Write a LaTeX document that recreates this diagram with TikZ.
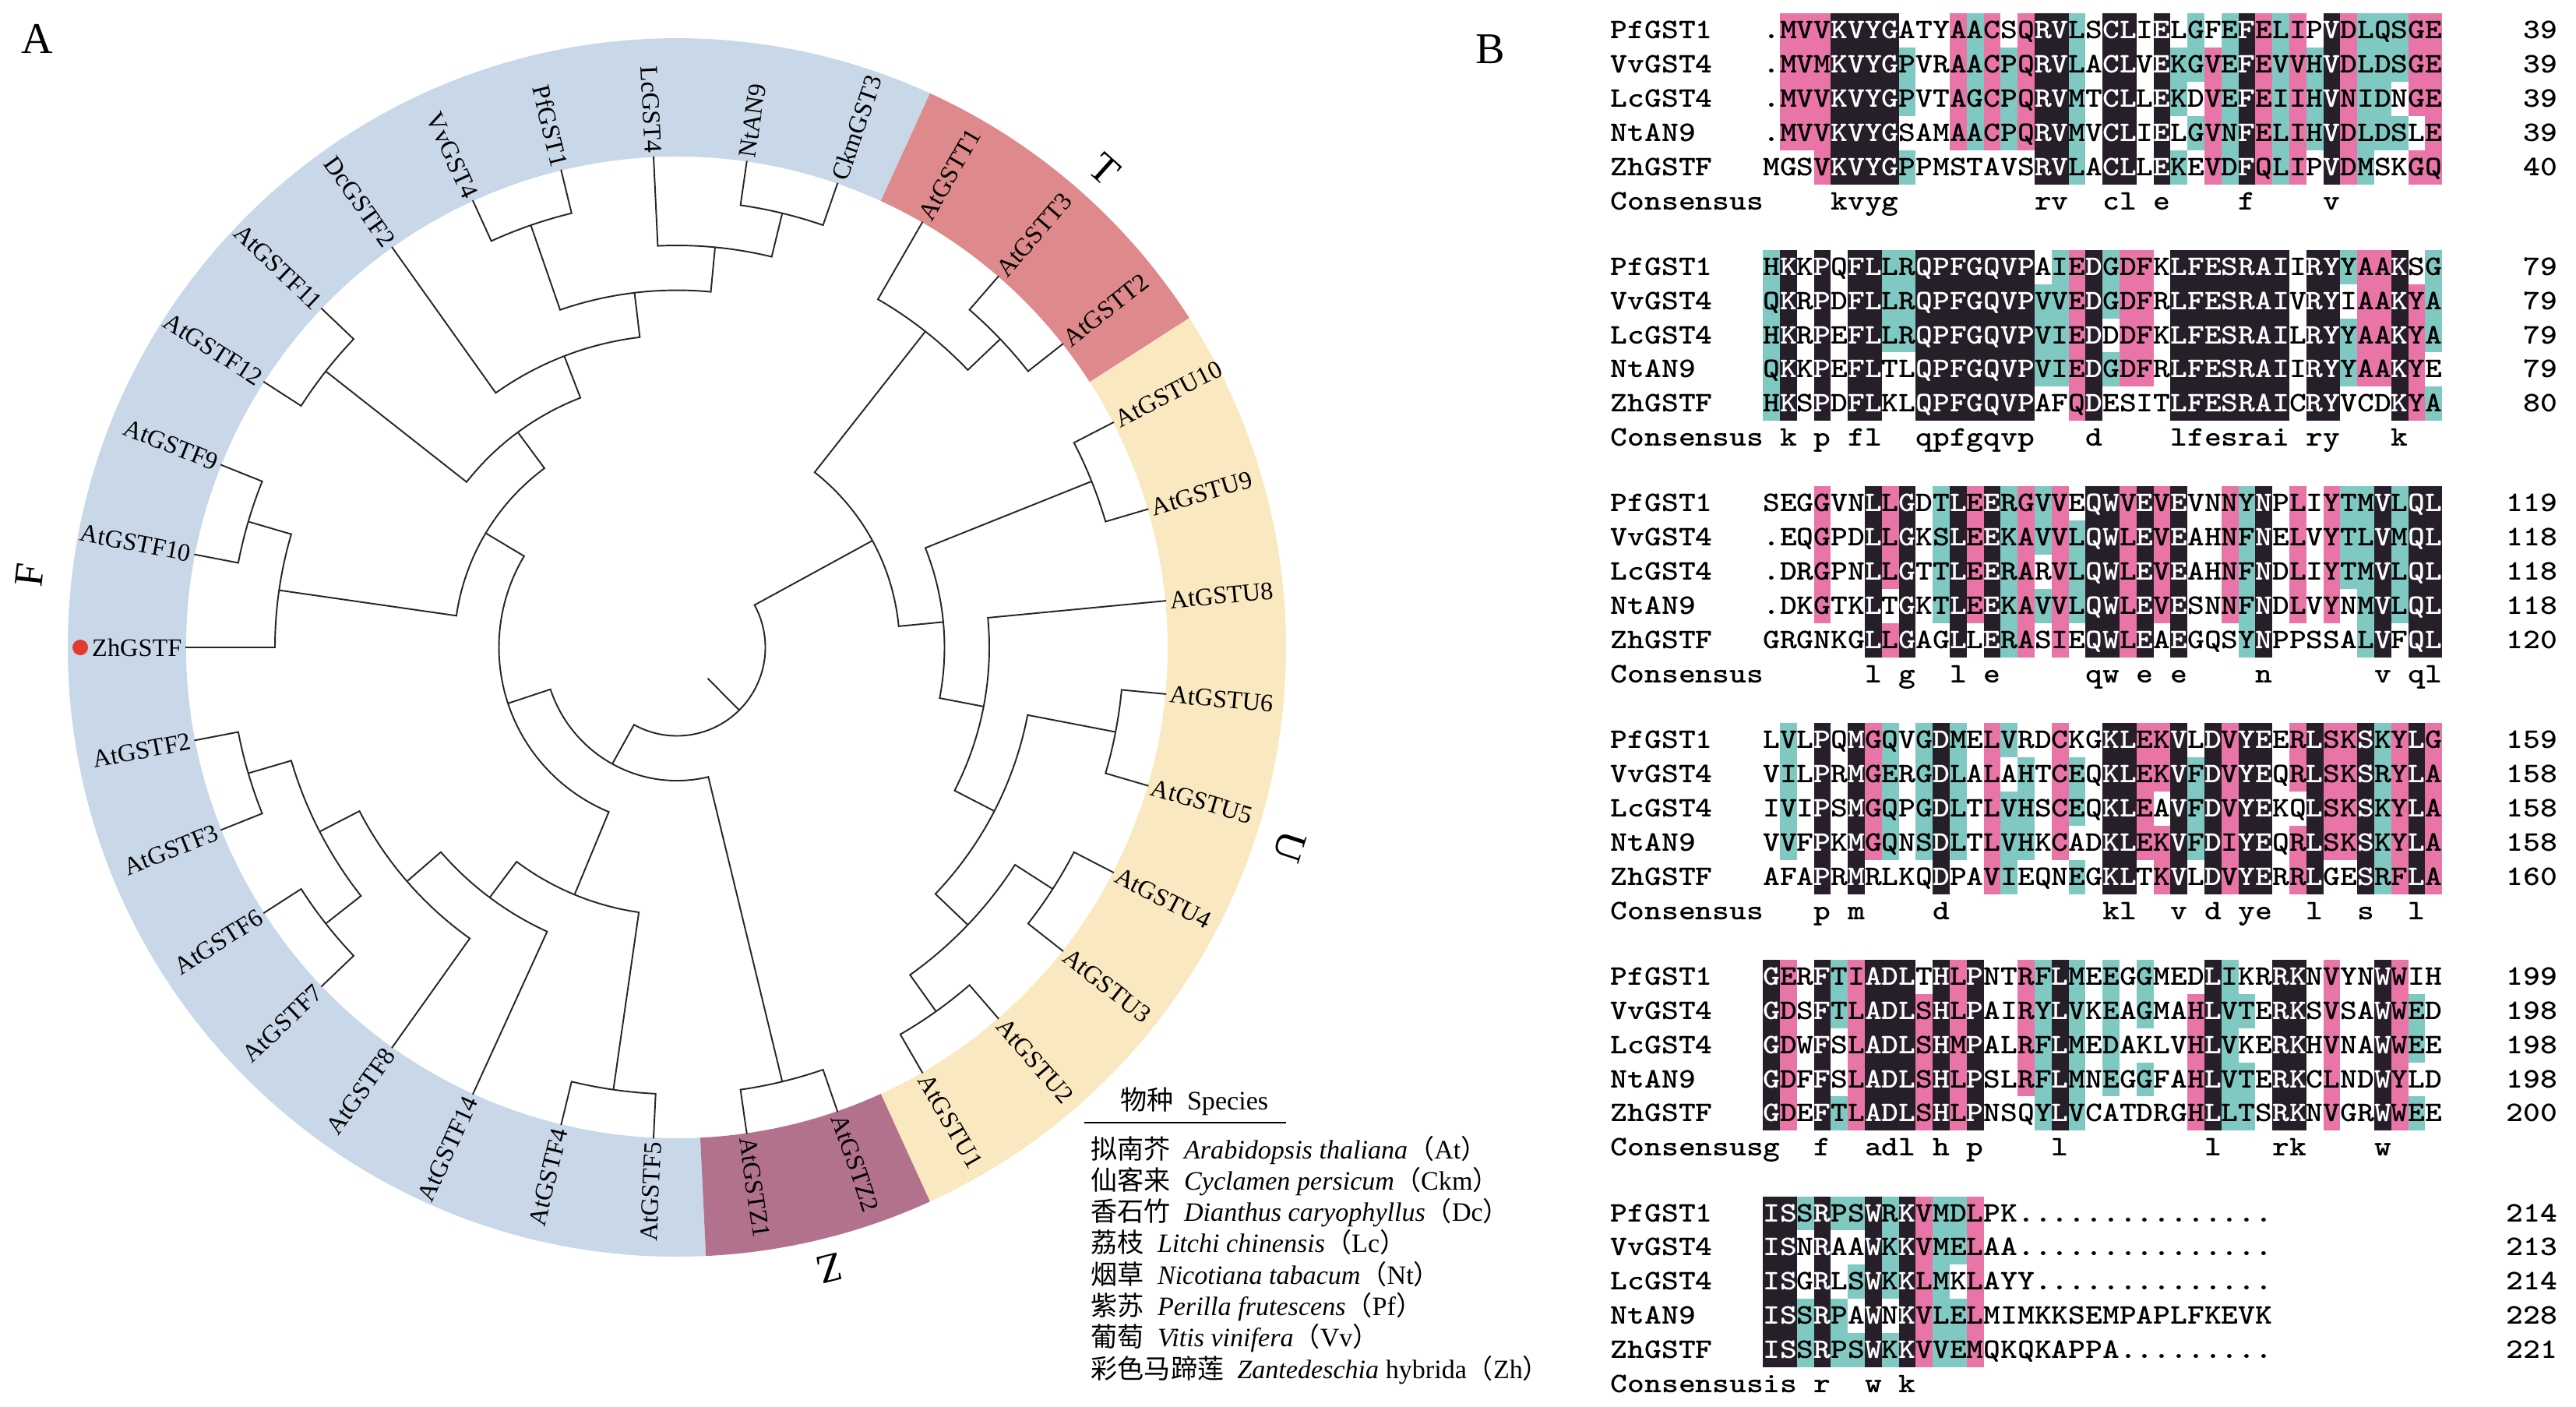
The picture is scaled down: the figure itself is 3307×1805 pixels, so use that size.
\documentclass[tikz,border=0pt]{standalone}
\usepackage{fontspec}
\setmainfont{Liberation Serif}
\newfontfamily\seqmono{lmmonolt10-bold}[Extension=.otf, FakeStretch=1.143]
\newfontfamily\cjk{Noto Sans CJK SC}

\definecolor{ringF}{HTML}{C8D8E8}
\definecolor{ringT}{HTML}{DE8A8C}
\definecolor{ringU}{HTML}{FAE8C0}
\definecolor{ringZ}{HTML}{B2728E}
\definecolor{zhred}{HTML}{E53A2F}
\definecolor{idblack}{HTML}{261E28}
\definecolor{hipink}{HTML}{E974A7}
\definecolor{midteal}{HTML}{80C9C3}

\ExplSyntaxOn
\cs_new:Npn \pickchar #1#2 { \str_item:Nn #1 {#2} }
\cs_new:Npn \countchars #1 { \str_count:N #1 }
\ExplSyntaxOff

\newcommand\colw{21.8}
\newcommand\rowh{43.9}
\newcommand\xname{2067}
\newcommand\xnum{3284}
\newcommand\baseoff{10.5}

% annular sector of the clade ring
\newcommand\ringpart[3]{\fill[#1] (#2:630) arc[start angle=#2, end angle=#3, radius=630]
  -- (#3:782) arc[start angle=#3, end angle=#2, radius=782] -- cycle;}

% name, angle/radius of child 1, angle/radius of child 2, radius of the joint
\newcommand\clade[6]{%
  \draw[branch] (#2:#3) -- (#2:#6) arc[start angle=#2, end angle=#4, radius=#6] -- (#4:#5);
  \coordinate (#1) at ({(#2+#4)/2}:#6);}

% block, row, name, residues, shading (K black, P pink, C teal, - none), last position
\newcommand\seqrow[6]{%
  \pgfmathsetmacro\yc{39+303.7*#1+43.9*#2}%
  \def\seqres{#4}\def\seqcode{#5}%
  \edef\nres{\countchars\seqres}\edef\ncode{\countchars\seqcode}%
  \foreach \i in {1,...,\ncode}{%
    \edef\shd{\pickchar\seqcode{\i}}%
    \pgfmathsetmacro\xl{\xname+(8+\i)*\colw}%
    \if K\shd\relax\fill[idblack] (\xl,{-\yc-\rowh/2}) rectangle ++(\colw,\rowh);\fi
    \if P\shd\relax\fill[hipink] (\xl,{-\yc-\rowh/2}) rectangle ++(\colw,\rowh);\fi
    \if C\shd\relax\fill[midteal] (\xl,{-\yc-\rowh/2}) rectangle ++(\colw,\rowh);\fi
  }%
  \foreach \i in {1,...,\nres}{%
    \edef\resch{\pickchar\seqres{\i}}\edef\shd{\pickchar\seqcode{\i}}%
    \pgfmathsetmacro\xc{\xname+(8.5+\i)*\colw}%
    \if K\shd\relax\def\txtcol{white}\else\def\txtcol{black}\fi
    \node[seqtxt, text=\txtcol] at (\xc,{-\yc-\baseoff}) {\resch};
  }%
  \node[seqtxt, anchor=base west] (#3-#1) at (\xname,{-\yc-\baseoff}) {#3};
  \node[seqtxt, anchor=base east] (end-#3-#1) at (\xnum,{-\yc-\baseoff}) {#6};
}

% block, consensus letters ('-' = blank)
\newcommand\consrow[2]{%
  \pgfmathsetmacro\yc{39+303.7*#1+43.9*5}%
  \def\seqres{#2}\edef\nres{\countchars\seqres}%
  \foreach \i in {1,...,\nres}{%
    \edef\resch{\pickchar\seqres{\i}}%
    \pgfmathsetmacro\xc{\xname+(8.5+\i)*\colw}%
    \if -\resch\relax\else\node[seqtxt] at (\xc,{-\yc-\baseoff}) {\resch};\fi
  }%
  \node[seqtxt, anchor=base west] (cons-#1) at (\xname,{-\yc-\baseoff}) {Consensus};
}

\begin{document}
\begin{tikzpicture}[x=0.01cm, y=0.01cm,
    branch/.style = {line width=0.55pt, draw=black!85},
    leaf/.style = {font=\fontsize{9.2}{10}\selectfont, inner sep=0pt},
    cladelab/.style = {font=\fontsize{15}{16}\selectfont, inner sep=0pt},
    panel/.style = {font=\fontsize{16}{18}\selectfont, inner sep=0pt},
    seqtxt/.style = {font=\seqmono\fontsize{10.34}{12}\selectfont, inner sep=0pt, anchor=base},
    legtxt/.style = {font=\fontsize{9.7}{12}\selectfont, inner sep=0pt, anchor=base west}
  ]
\useasboundingbox (0,0) rectangle (3307,-1805);
\node[panel] (panA) at (48,-50) {A};
\node[panel] (panB) at (1913,-63) {B};

\begin{scope}[shift={(869,-831)}]
  \ringpart{ringF}{65.45}{272.73}
  \ringpart{ringT}{32.73}{65.45}
  \ringpart{ringU}{-65.45}{32.73}
  \ringpart{ringZ}{-87.27}{-65.45}

  % F, upper part
  \clade{f910}{158.18}{631}{169.09}{631}{573.5}
  \clade{f910zh}{163.64}{573.5}{180}{631}{516}
  \clade{f1112}{136.36}{631}{147.27}{631}{573.5}
  \clade{vvpf}{103.64}{631}{114.55}{631}{573.5}
  \clade{ntckm}{70.91}{631}{81.82}{631}{573.5}
  \clade{lcnt}{76.36}{573.5}{92.73}{631}{516}
  \clade{fcore}{84.55}{516}{109.09}{573.5}{458.5}
  \clade{fdc}{96.82}{458.5}{125.45}{631}{401}
  \clade{fmid}{111.14}{401}{141.82}{573.5}{343.5}
  \clade{fup}{126.48}{343.5}{171.82}{516}{286}
  % F, lower part
  \clade{f23}{-169.09}{631}{-158.18}{631}{573.5}
  \clade{f67}{-147.27}{631}{-136.36}{631}{573.5}
  \clade{f2367}{-163.64}{573.5}{-141.82}{573.5}{516}
  \clade{f8}{-152.73}{516}{-125.45}{631}{458.5}
  \clade{f14}{-139.09}{458.5}{-114.55}{631}{401}
  \clade{f45}{-103.64}{631}{-92.73}{631}{573.5}
  \clade{flow}{-126.82}{401}{-98.18}{573.5}{343.5}
  \clade{froot}{149.15}{286}{247.5}{343.5}{228.5}
  % Z, T, U
  \clade{zz}{-81.82}{631}{-70.91}{631}{573.5}
  \clade{t32}{38.18}{631}{49.09}{631}{573.5}
  \clade{tt}{43.64}{573.5}{60}{631}{516}
  \clade{u109}{16.36}{631}{27.27}{631}{573.5}
  \clade{u65}{-16.36}{631}{-5.45}{631}{573.5}
  \clade{u43}{-38.18}{631}{-27.27}{631}{573.5}
  \clade{u21}{-60}{631}{-49.09}{631}{573.5}
  \clade{u4321}{-54.55}{573.5}{-32.73}{573.5}{516}
  \clade{uv}{-43.64}{516}{-10.91}{573.5}{458.5}
  \clade{u8v}{-27.27}{458.5}{5.45}{631}{401}
  \clade{uall}{-10.91}{401}{21.82}{573.5}{343.5}
  \clade{tu}{5.45}{343.5}{51.82}{516}{286}
  % root
  \clade{fz}{198.33}{228.5}{283.64}{573.5}{171}
  \clade{top}{-119.02}{171}{28.64}{286}{113.5}
  \draw[branch] (top) -- (-45.19:56);

  \foreach \a/\lab in {81.82/NtAN9, 70.91/CkmGST3, 60/AtGSTT1, 49.09/AtGSTT3, 38.18/AtGSTT2,
      27.27/AtGSTU10, 16.36/AtGSTU9, 5.45/AtGSTU8, -5.45/AtGSTU6, -16.36/AtGSTU5,
      -27.27/AtGSTU4, -38.18/AtGSTU3, -49.09/AtGSTU2, -60/AtGSTU1, -70.91/AtGSTZ2, -81.82/AtGSTZ1}
    \node[leaf, anchor=west, rotate=\a] (\lab) at (\a:635) {\lab};
  \foreach \a/\lab in {92.73/LcGST4, 103.64/PfGST1, 114.55/VvGST4, 125.45/DcGSTF2, 136.36/AtGSTF11,
      147.27/AtGSTF12, 158.18/AtGSTF9, 169.09/AtGSTF10, 180/ZhGSTF, 190.91/AtGSTF2,
      201.82/AtGSTF3, 212.73/AtGSTF6, 223.64/AtGSTF7, 234.55/AtGSTF8, 245.45/AtGSTF14,
      256.36/AtGSTF4, 267.27/AtGSTF5}
    \node[leaf, anchor=east, rotate=\a+180] (\lab) at (\a:635) {\lab};
  \fill[zhred] (180:766) circle[radius=10];

  \node[cladelab, rotate=-41.8] (cladeT) at (48.2:823) {T};
  \node[cladelab, rotate=-108] (cladeU) at (-18:827) {U};
  \node[cladelab, rotate=-166.2] (cladeZ) at (-76.2:821) {Z};
  \node[cladelab, rotate=83.6] (cladeF) at (173.6:836) {F};
\end{scope}

% species key
\node[legtxt] (leghead) at (1438,-1424) {{\cjk 物种}\hspace{0.5em}Species};
\draw[line width=0.6pt] (1392,-1441) -- (1651,-1441);
\foreach \k/\zh/\la/\ab in {0/拟南芥/\textit{Arabidopsis thaliana}/At, 1/仙客来/\textit{Cyclamen persicum}/Ckm,
    2/香石竹/\textit{Dianthus caryophyllus}/Dc, 3/荔枝/\textit{Litchi chinensis}/Lc,
    4/烟草/\textit{Nicotiana tabacum}/Nt, 5/紫苏/\textit{Perilla frutescens}/Pf,
    6/葡萄/\textit{Vitis vinifera}/Vv, 7/彩色马蹄莲/\textit{Zantedeschia} hybrida/Zh}
  \node[legtxt] (leg\k) at (1400,{-1487-40.3*\k}) {{\cjk\zh}\hspace{0.5em}\la{\cjk （}\ab{\cjk ）}};

% alignment
\seqrow{0}{0}{PfGST1}{.MVVKVYGATYAACSQRVLSCLIELGFEFELIPVDLQSGE}{-PPPKKKK---PCP-PKKC-KK-K-C-CKPCP-KPCCCPP}{39}
\seqrow{0}{1}{VvGST4}{.MVMKVYGPVRAACPQRVLACLVEKGVEFEVVHVDLDSGE}{-PPPKKKKC--PCPCPKKC-KK-KCCPCKPCPCKPCCCPP}{39}
\seqrow{0}{2}{LcGST4}{.MVVKVYGPVTAGCPQRVMTCLLEKDVEFEIIHVNIDNGE}{-PPPKKKKC--PCPCPKKC-KK-KC-PCKPCPCKPCC-PP}{39}
\seqrow{0}{3}{NtAN9}{.MVVKVYGSAMAACPQRVMVCLIELGVNFELIHVDLDSLE}{-PPPKKKK---PCPCPKKC-KK-K-CPCKPCPCKPCCC-P}{39}
\seqrow{0}{4}{ZhGSTF}{MGSVKVYGPPMSTAVSRVLACLLEKEVDFQLIPVDMSKGQ}{---PKKKKC-------KKC-KK-KC-PCKPCP-KPC--PP}{40}
\consrow{0}{----kvyg--------rv--cl-e----f----v}

\seqrow{1}{0}{PfGST1}{HKKPQFLLRQPFGQVPAIEDGDFKLFESRAIIRYYAAKSG}{CK-K-KKCCKKKKKKK-CPKCPP-KKKKKKK-KKCPPK-C}{79}
\seqrow{1}{1}{VvGST4}{QKRPDFLLRQPFGQVPVVEDGDFRLFESRAIVRYIAAKYA}{CK-K-KKCCKKKKKKKCCPKCPP-KKKKKKK-KK-PPKPC}{79}
\seqrow{1}{2}{LcGST4}{HKRPEFLLRQPFGQVPVIEDDDFKLFESRAILRYYAAKYA}{CK-K-KKCCKKKKKKKCCPK-PP-KKKKKKK-KKCPPKPC}{79}
\seqrow{1}{3}{NtAN9}{QKKPEFLTLQPFGQVPVIEDGDFRLFESRAIIRYYAAKYE}{CK-K-KK--KKKKKKKCCPKCPP-KKKKKKK-KKCPPKP-}{79}
\seqrow{1}{4}{ZhGSTF}{HKSPDFLKLQPFGQVPAFQDESITLFESRAICRYVCDKYA}{CK-K-KK--KKKKKKK--PK----KKKKKKK-KK---KPC}{80}
\consrow{1}{-k-p-fl--qpfgqvp---d----lfesrai-ry---k}

\seqrow{2}{0}{PfGST1}{SEGGVNLLGDTLEERGVVEQWVEVEVNNYNPLIYTMVLQL}{---P--KPK-CKPKCPCP-KKPKPK--PCK-P-PCCKCKK}{119}
\seqrow{2}{1}{VvGST4}{.EQGPDLLGKSLEEKAVVLQWLEVEAHNFNELVYTLVMQL}{---P--KPK-CKPKCPCPCKKPKPK--PCK-P-PCCKCKK}{118}
\seqrow{2}{2}{LcGST4}{.DRGPNLLGTTLEERARVLQWLEVEAHNFNDLIYTMVLQL}{---P--KPK-CKPKCP-PCKKPKPK--PCK-P-PCCKCKK}{118}
\seqrow{2}{3}{NtAN9}{.DKGTKLTGKTLEEKAVVLQWLEVESNNFNDLVYNMVLQL}{---P--K-K-CKPKCPCPCKKPKPK--PCK-P-P-CKCKK}{118}
\seqrow{2}{4}{ZhGSTF}{GRGNKGLLGAGLLERASIEQWLEAEGQSYNPPSSALVFQL}{------KPK--K-KCP-P-KKPK-K---CK-----CK-KK}{120}
\consrow{2}{------l-g--l-e-----qw-e-e----n------v-ql}

\seqrow{3}{0}{PfGST1}{LVLPQMGQVGDMELVRDCKGKLEKVLDVYEERLSKSKYLG}{-C-K-KPC-CKC-PC--P--KKPPK-KPKK-PKPPKCPKP}{159}
\seqrow{3}{1}{VvGST4}{VILPRMGERGDLALAHTCEQKLEKVFDVYEQRLSKSRYLA}{-C-K-KPC-CKC-P-C-PC-KKPPKCKPKK-PKPPKCPKP}{158}
\seqrow{3}{2}{LcGST4}{IVIPSMGQPGDLTLVHSCEQKLEAVFDVYEKQLSKSKYLA}{-C-K-KPC-CKC-PCC-PC-KKP-KCKPKK--KPPKCPKP}{158}
\seqrow{3}{3}{NtAN9}{VVFPKMGQNSDLTLVHKCADKLEKVFDIYEQRLSKSKYLA}{-C-K-KPC-CKC-PCC-P--KKPPKCKPKK-PKPPKCPKP}{158}
\seqrow{3}{4}{ZhGSTF}{AFAPRMRLKQDPAVIEQNEGKLTKVLDVYERRLGESRFLA}{---K-K----K--PC---C-KK-PK-KPKK-PK--KCPKP}{160}
\consrow{3}{---p-m----d---------kl--v-d-ye--l--s--l}

\seqrow{4}{0}{PfGST1}{GERFTIADLTHLPNTRFLMEEGGMEDLIKRRKNVYNWWIH}{KP-KCPKKK-KPK--PCKC-C-C---KC--KK-P--KP--}{199}
\seqrow{4}{1}{VvGST4}{GDSFTLADLSHLPAIRYLVKEAGMAHLVTERKSVSAWWED}{KP-KCPKKKPKPK--PCKC-C-C--PKCC-KK-P--KPC-}{198}
\seqrow{4}{2}{LcGST4}{GDWFSLADLSHMPALRFLMEDAKLVHLVKERKHVNAWWEE}{KP-K-PKKKPKPK--PCKC-C----PKC--KK-P--KPC-}{198}
\seqrow{4}{3}{NtAN9}{GDFFSLADLSHLPSLRFLMNEGGFAHLVTERKCLNDWYLD}{KP-K-PKKKPKPK--PCKC-C-C--PKCC-KK-P--KP--}{198}
\seqrow{4}{4}{ZhGSTF}{GDEFTLADLSHLPNSQYLVCATDRGHLLTSRKNVGRWWEE}{KP-KCPKKKPKPK---CKC------PKCC-KK-P--KPC-}{200}
\consrow{4}{g--f--adl-h-p----l--------l---rk----w}

\seqrow{5}{0}{PfGST1}{ISSRPSWRKVMDLPK...............}{KKCKCCKCKPCCP}{214}
\seqrow{5}{1}{VvGST4}{ISNRAAWKKVMELAA...............}{KK-K--KCKPCCP}{213}
\seqrow{5}{2}{LcGST4}{ISGRLSWKKLMKLAYY..............}{KK-K-CKCKPC-P}{214}
\seqrow{5}{3}{NtAN9}{ISSRPAWNKVLELMIMKKSEMPAPLFKEVK}{KKCKC-K-KPCCP}{228}
\seqrow{5}{4}{ZhGSTF}{ISSRPSWKKVVEMQKQKAPPA.........}{KKCKCCKCKPCCP}{221}
\consrow{5}{is-r--w-k}
\end{tikzpicture}
\end{document}
